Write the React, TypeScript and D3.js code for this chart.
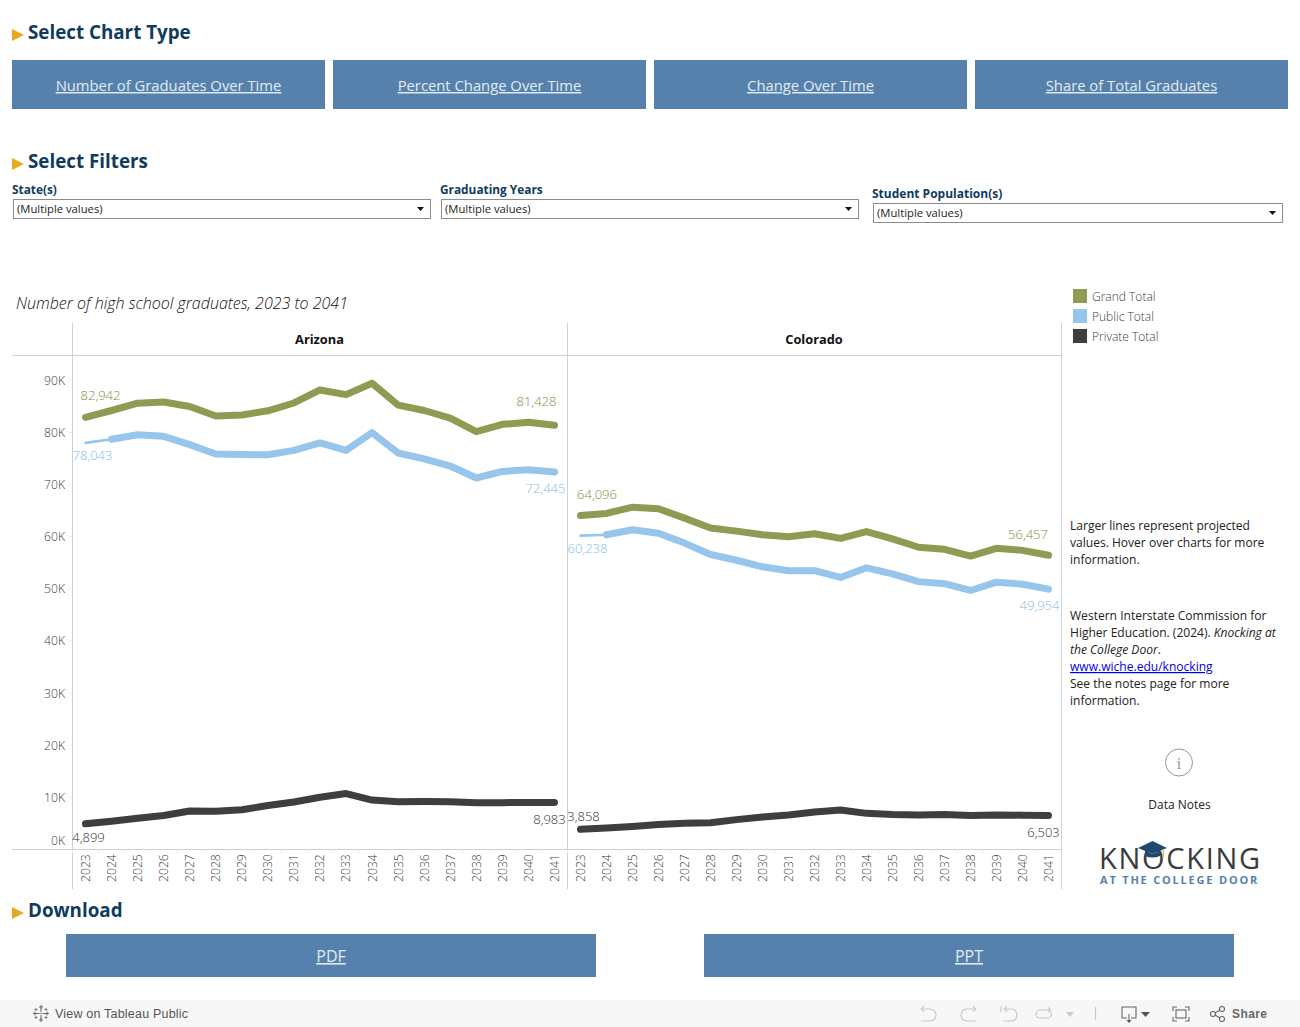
import React from "react";
import * as d3 from "d3";

const years = d3.range(2023, 2042);
const yTicks = [0, 10000, 20000, 30000, 40000, 50000, 60000, 70000, 80000, 90000];

const azGrand = [82942, 84260, 85670, 85900, 85030, 83200, 83400, 84200, 85700, 88200, 87300, 89500, 85300, 84260, 82800, 80200, 81600, 82000, 81428];
const azPublic = [78043, 78750, 79600, 79300, 77700, 75900, 75800, 75750, 76600, 78050, 76600, 80000, 76100, 74980, 73600, 71300, 72550, 72900, 72445];
const azPrivate = [4899, 5400, 5950, 6500, 7350, 7300, 7600, 8400, 9080, 10000, 10700, 9450, 9150, 9200, 9150, 8960, 8960, 9000, 8983];
const coGrand = [64096, 64500, 65700, 65400, 63600, 61700, 61100, 60400, 60000, 60600, 59700, 61000, 59600, 58000, 57600, 56300, 57800, 57400, 56457];
const coPublic = [60238, 60400, 61350, 60700, 58800, 56600, 55500, 54250, 53500, 53500, 52200, 54050, 52900, 51400, 51000, 49700, 51300, 50900, 49954];
const coPrivate = [3858, 4100, 4400, 4740, 5000, 5100, 5700, 6200, 6600, 7160, 7540, 6900, 6660, 6600, 6660, 6500, 6600, 6550, 6503];

const seriesNames = ["Grand Total", "Public Total", "Private Total"];
const seriesColors = ["#8e9b53", "#97c5ec", "#3e3e40"];
const labelColors = ["#7f8d40", "#85bbea", "#333333"];
const chartButtons = ["Number of Graduates Over Time", "Percent Change Over Time", "Change Over Time", "Share of Total Graduates"];
const downloadButtons = ["PDF", "PPT"];

const F = "'Open Sans', sans-serif";
const NAVY = "#0f3b5e";
const BTN = "#5581ac";
const GRID = "#cfcfcf";

const yScale = d3.scaleLinear().domain([0, 90000]).range([849.3, 380.6]);

type LabelOffset = [number, number];
type PanelProps = {
  name: string; x0: number; x1: number;
  grand: number[]; pub: number[]; priv: number[];
  off: LabelOffset[];
};

function Panel({ name, x0, x1, grand, pub, priv, off }: PanelProps) {
  const x = d3.scaleBand<number>().domain(years).range([x0, x1]);
  const cx = (y: number) => (x(y) as number) + x.bandwidth() / 2;
  const line = d3.line<[number, number]>().x((d) => cx(d[0])).y((d) => yScale(d[1]));
  const pts = (a: number[]) => a.map((v, i) => [years[i], v] as [number, number]);
  const last = years.length - 1;
  const lbl = (i: number, v: number, k: number, o: number) => (
    <text key={`${k}-${o}`} x={cx(years[i]) + off[o][0]} y={yScale(v) + off[o][1]} textAnchor="middle"
      fontSize={13} fontWeight={300} fill={labelColors[k]} fontFamily={F}>{d3.format(",")(v)}</text>
  );
  return (
    <g>
      <text x={(x0 + x1) / 2 - 0.5} y={344} textAnchor="middle" fontSize={12.8} fontWeight={700} fill="#111" fontFamily={F}>{name}</text>
      {years.map((y) => (
        <g key={y}>
          <line x1={(x(y) as number)} x2={(x(y) as number)} y1={849.5} y2={853} stroke="#ececec" />
          <text transform={`translate(${cx(y) + 4.4},882) rotate(-90)`} fontSize={12.2} fontWeight={300} fill="#3c3c3c" fontFamily={F}>{y}</text>
        </g>
      ))}
      <g fill="none" strokeLinecap="round" strokeLinejoin="round">
        <path d={line(pts(priv)) || ""} stroke={seriesColors[2]} strokeWidth={7} />
        <path d={line(pts(pub).slice(0, 2)) || ""} stroke={seriesColors[1]} strokeWidth={2.6} />
        <path d={line(pts(pub).slice(1)) || ""} stroke={seriesColors[1]} strokeWidth={7} />
        <path d={line(pts(grand)) || ""} stroke={seriesColors[0]} strokeWidth={7} />
      </g>
      {lbl(0, grand[0], 0, 0)}
      {lbl(last, grand[last], 0, 1)}
      {lbl(0, pub[0], 1, 2)}
      {lbl(last, pub[last], 1, 3)}
      {lbl(0, priv[0], 2, 4)}
      {lbl(last, priv[last], 2, 5)}
    </g>
  );
}

function Heading({ y, text }: { y: number; text: string }) {
  return (
    <g>
      <path d={`M12,${y - 10} L24,${y - 4} L12,${y + 2} Z`} fill="#eaa81f" />
      <text x={28} y={y} fontSize={18.8} fontWeight={700} fill={NAVY} fontFamily={F}>{text}</text>
    </g>
  );
}

function Filter({ x, w, yLabel, yBox, label, size }: { x: number; w: number; yLabel: number; yBox: number; label: string; size: number }) {
  return (
    <g fontFamily={F}>
      <text x={x - 1} y={yLabel} fontSize={size} fontWeight={700} fill={NAVY}>{label}</text>
      <rect x={x + 0.5} y={yBox + 0.5} width={w} height={19} fill="#fff" stroke="#8c8c8c" />
      <text x={x + 4} y={yBox + 14} fontSize={11.25} fill="#222">(Multiple values)</text>
      <path d={`M${x + w - 13},${yBox + 8} h7 l-3.5,4 Z`} fill="#111" />
    </g>
  );
}

export default function App() {
  const bx = [12, 333, 654, 975];
  const dx = [66, 704];
  return (
    <svg width={1300} height={1027} viewBox="0 0 1300 1027" style={{ position: "absolute", left: 0, top: 0, display: "block", background: "#fff" }}>
      <Heading y={39} text="Select Chart Type" />
      {chartButtons.map((t, i) => (
        <g key={t}>
          <rect x={bx[i]} y={60} width={313} height={49} fill={BTN} />
          <text x={bx[i] + 156.5} y={91} textAnchor="middle" fontSize={14.8} fill="#e3ebf3" textDecoration="underline" fontFamily={F}>{t}</text>
        </g>
      ))}
      <Heading y={168} text="Select Filters" />
      <Filter x={13} w={417} yLabel={194} yBox={199} label="State(s)" size={11.85} />
      <Filter x={441} w={417} yLabel={194} yBox={199} label="Graduating Years" size={11.85} />
      <Filter x={873} w={409} yLabel={198} yBox={203} label="Student Population(s)" size={12} />

      <text x={16} y={309} fontSize={16} fontWeight={300} fontStyle="italic" fill="#111" fontFamily={F}>Number of high school graduates, 2023 to 2041</text>

      {seriesNames.map((n, i) => (
        <g key={n}>
          <rect x={1073} y={289 + i * 20} width={14} height={14} fill={seriesColors[i]} />
          <text x={1092} y={301 + i * 20} fontSize={12} fontWeight={300} fill="#3c3c3c" fontFamily={F}>{n}</text>
        </g>
      ))}

      <g stroke={GRID} strokeWidth={1}>
        <line x1={72.5} x2={72.5} y1={323} y2={889} />
        <line x1={567.5} x2={567.5} y1={323} y2={889} />
        <line x1={1061.5} x2={1061.5} y1={323} y2={889} />
        <line x1={12} x2={1062} y1={355.5} y2={355.5} />
        <line x1={12} x2={1062} y1={849.5} y2={849.5} />
      </g>
      {yTicks.map((t) => (
        <g key={t}>
          {t > 0 && <line x1={68} x2={72} y1={yScale(t)} y2={yScale(t)} stroke="#ececec" />}
          <text x={65} y={t === 0 ? 845 : yScale(t) + 4.5} textAnchor="end" fontSize={12.2} fontWeight={300} fill="#3c3c3c" fontFamily={F}>{d3.format("~s")(t / 1000)}K</text>
        </g>
      ))}

      <Panel name="Arizona" x0={72.5} x1={567.5} grand={azGrand} pub={azPublic} priv={azPrivate}
        off={[[15, -17], [-18, -19], [7, 17], [-9, 21], [3, 18], [-5, 21]]} />
      <Panel name="Colorado" x0={567.5} x1={1061.5} grand={coGrand} pub={coPublic} priv={coPrivate}
        off={[[16.5, -17], [-20.5, -16], [7, 17.5], [-9, 21], [3, -8], [-5, 22]]} />

      <g fontFamily={F} fontSize={12.05} fill="#222">
        <text x={1070} y={530}>Larger lines represent projected</text>
        <text x={1070} y={547}>values. Hover over charts for more</text>
        <text x={1070} y={564}>information.</text>
        <text x={1070} y={620}>Western Interstate Commission for</text>
        <text x={1070} y={637}>Higher Education. (2024). <tspan fontStyle="italic">Knocking at</tspan></text>
        <text x={1070} y={654} fontStyle="italic">the College Door<tspan fontStyle="normal">.</tspan></text>
        <text x={1070} y={671} fill="#0000ee" textDecoration="underline">www.wiche.edu/knocking</text>
        <text x={1070} y={688}>See the notes page for more</text>
        <text x={1070} y={705}>information.</text>
      </g>
      <circle cx={1179} cy={762.5} r={13.5} fill="#fff" stroke="#8a9a9a" />
      <text x={1179} y={769} textAnchor="middle" fontSize={16} fill="#8a9a9a" fontFamily="'Liberation Serif', serif">i</text>
      <text x={1179.5} y={809} textAnchor="middle" fontSize={12} fill="#222" fontFamily={F}>Data Notes</text>

      <text x={1099} y={869} fontSize={29} fill="#3b3b3d" letterSpacing={1.7} fontFamily={F}>KNOCKING</text>
      <text x={1100} y={884} fontSize={11} fontWeight={700} fill="#5581ac" letterSpacing={1.8} fontFamily={F}>AT THE COLLEGE DOOR</text>
      <path d="M1138,848 L1152.5,841 L1167,848 L1152.5,854 Z" fill="#1f4a70" />
      <path d="M1145,851 L1145,856 Q1152.5,859 1160,856 L1160,851 L1152.5,854 Z" fill="#1f4a70" />
      <rect x={1162.5} y={849} width={1.6} height={9} fill="#e8c060" />

      <Heading y={917} text="Download" />
      {downloadButtons.map((t, i) => (
        <g key={t}>
          <rect x={dx[i]} y={934} width={530} height={43} fill={BTN} />
          <text x={dx[i] + 265} y={962} textAnchor="middle" fontSize={16} fill="#e3ebf3" textDecoration="underline" fontFamily={F}>{t}</text>
        </g>
      ))}

      <rect x={0} y={1000} width={1300} height={27} fill="#f7f7f7" />
      <g stroke="#666" fill="none" strokeWidth={1}>
        <path d="M41,1008 v11 M35.5,1013.5 h11" strokeDasharray="4 1 1 1 4" />
        <path d="M41,1005 v4 M39,1007 h4 M41,1018 v4 M39,1020 h4 M33,1013.5 h4 M35,1011.5 v4 M45,1013.5 h4 M47,1011.5 v4" />
        <path d="M36,1008 v3 M34.5,1009.5 h3 M46,1008 v3 M44.5,1009.5 h3 M36,1016 v3 M34.5,1017.5 h3 M46,1016 v3 M44.5,1017.5 h3" strokeWidth={0.8} />
      </g>
      <text x={55} y={1018} fontSize={12.5} letterSpacing={0.2} fill="#555" fontFamily="'Liberation Sans', sans-serif">View on Tableau Public</text>
      <g fill="none" stroke="#c9c9c9" strokeWidth={1.2}>
        <path d="M921,1009 h9 a6,6 0 0 1 0,12 h-9" />
        <path d="M921,1009 l3,-2.5 M921,1009 l3,2.5" />
        <path d="M976,1009 h-9 a6,6 0 0 0 0,12 h9" />
        <path d="M976,1009 l-3,-2.5 M976,1009 l-3,2.5" />
        <path d="M1001,1006 v6 M1004,1009 h7 a6,6 0 0 1 0,12 h-8" />
        <path d="M1004,1009 l3,-2.5 M1004,1009 l3,2.5" />
        <path d="M1051,1010 h-11 a4,4 0 0 0 0,8 h8 a4,4 0 0 0 3,-6 M1051,1010 l-3,-2.5 M1051,1010 l-3,2.5" />
        <line x1={1095.5} x2={1095.5} y1={1007} y2={1020} />
      </g>
      <path d="M1066,1012 h8 l-4,5 Z" fill="#c9c9c9" />
      <g fill="none" stroke="#666" strokeWidth={1.1}>
        <path d="M1127,1018 h-5 v-11 h14 v11 h-5" />
        <path d="M1129,1014 v7" />
        <path d="M1173,1011 v-4 h4 M1185,1007 h4 v4 M1189,1017 v4 h-4 M1177,1021 h-4 v-4" />
        <rect x={1176} y={1010} width={10} height={8} />
        <circle cx={1213} cy={1014} r={2.5} /><circle cx={1222} cy={1009} r={2.5} /><circle cx={1222} cy={1019} r={2.5} />
        <path d="M1215,1013 l5,-3 M1215,1015 l5,3" />
      </g>
      <path d="M1126.5,1020 h5 l-2.5,3 Z" fill="#555" />
      <path d="M1141,1012 h9 l-4.5,5 Z" fill="#555" />
      <text x={1232} y={1018} fontSize={12} fontWeight={700} letterSpacing={0.4} fill="#666" fontFamily="'Liberation Sans', sans-serif">Share</text>
    </svg>
  );
}
